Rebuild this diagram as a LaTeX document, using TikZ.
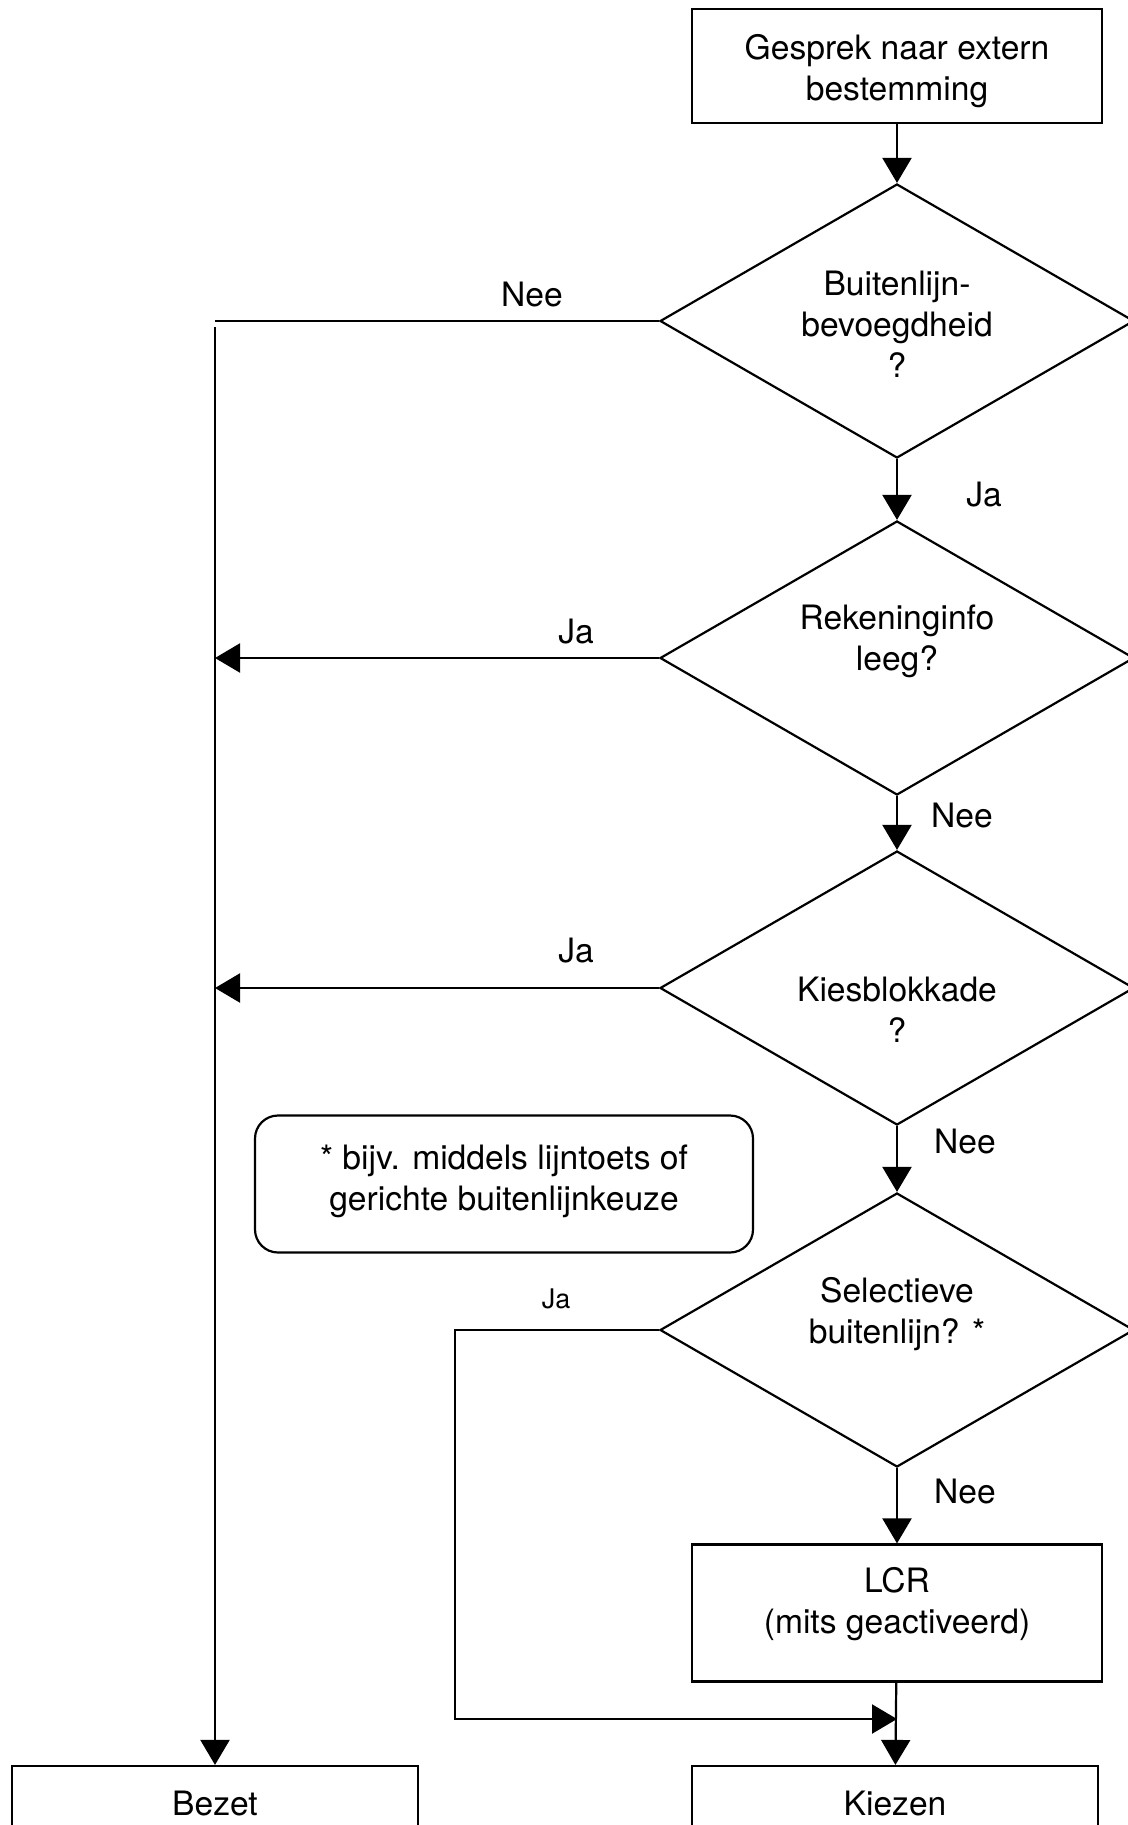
\documentclass[tikz,border=0pt]{standalone}
\usepackage{fontspec}
\setmainfont{TeX Gyre Heros}
\usetikzlibrary{shapes.geometric,arrows.meta,positioning,calc}

\tikzset{
  every node/.style={font=\fontsize{16.8}{20.4}\selectfont, align=center},
  procbox/.style={draw, rectangle, line width=1.1pt, minimum width=205pt, minimum height=57pt, inner sep=0pt},
  endbox/.style={draw, rectangle, line width=1.1pt, minimum width=203pt, minimum height=37pt, inner sep=0pt},
  decision/.style={draw, diamond, line width=1.1pt, minimum width=237pt, minimum height=137pt, inner sep=0pt},
  notebox/.style={draw, rectangle, rounded corners=11.5pt, line width=1.1pt, minimum width=249pt, minimum height=68.5pt},
  flow/.style={line width=1.1pt, -{Triangle[length=12.5pt,width=14.5pt]}},
  lbl/.style={inner sep=0pt},
  smalllbl/.style={inner sep=0pt, font=\fontsize{13.5}{16}\selectfont},
}

\begin{document}
\begin{tikzpicture}[x=0.5pt, y=-0.5pt]
    \useasboundingbox (0,0) rectangle (1128,1825);
    \clip (0,0) rectangle (1128,1825);

    % Start
    \node[procbox] (start) at (897,66) {};
    \node (starttxt) at (897,71) {Gesprek naar extern\\bestemming};

    % Decisions
    \node[decision] (bev) at (897,321) {};
    \node (bevtxt) at (897,324) {Buitenlijn-\\bevoegdheid\\?};
    \node[decision] (rek) at (897,658) {};
    \node (rektxt) at (897,641) {Rekeninginfo\\leeg?};
    \node[decision] (kies) at (897,988) {};
    \node (kiestxt) at (897,1010) {Kiesblokkade\\?};
    \node[decision] (sel) at (897,1330) {};
    \node (seltxt) at (897,1314) {Selectieve\\buitenlijn? *};

    % LCR and end states
    \node[procbox, minimum height=68.5pt] (lcr) at (897,1613) {};
    \node (lcrtxt) at (897,1604) {LCR\\(mits geactiveerd)};
    \node[endbox] (bezet) at (215,1803) {Bezet};
    \node[endbox] (kiezen) at (895,1803) {Kiezen};

    % Footnote
    \node[notebox] (note) at (504,1184) {};
    \node (notetxt) at (504,1181) {* bijv. middels lijntoets of\\gerichte buitenlijnkeuze};

    % Main column
    \draw[flow] (start) -- (bev);
    \draw[flow] (bev) -- (rek);
    \draw[flow] (rek) -- (kies);
    \draw[flow] (kies) -- (sel);
    \draw[flow] (sel) -- (lcr);
    \draw[flow] (lcr) -- (kiezen);

    % Left side to Bezet
    \coordinate (neecorner) at (bev.west -| bezet);
    \draw[line width=1.1pt] (bev.west) -- (neecorner);
    \draw[flow] ([yshift=-3pt]neecorner) -- (bezet);
    \draw[flow] (rek.west) -- (rek.west -| bezet);
    \draw[flow] (kies.west) -- (kies.west -| bezet);

    % Selective line loop
    \coordinate (selbend) at (455,1719);
    \coordinate (merge) at (897,1719);
    \draw[flow] (sel.west) -| (selbend) -- (merge);

    % Labels
    \node[lbl] (nee1) at (532,295) {Nee};
    \node[lbl] (ja1) at (984,495) {Ja};
    \node[lbl] (ja2) at (576,632) {Ja};
    \node[lbl] (nee2) at (962,815) {Nee};
    \node[lbl] (ja3) at (576,951) {Ja};
    \node[lbl] (nee3) at (965,1141) {Nee};
    \node[smalllbl] (ja4) at (556,1299) {Ja};
    \node[lbl] (nee4) at (965,1491) {Nee};
\end{tikzpicture}
\end{document}
